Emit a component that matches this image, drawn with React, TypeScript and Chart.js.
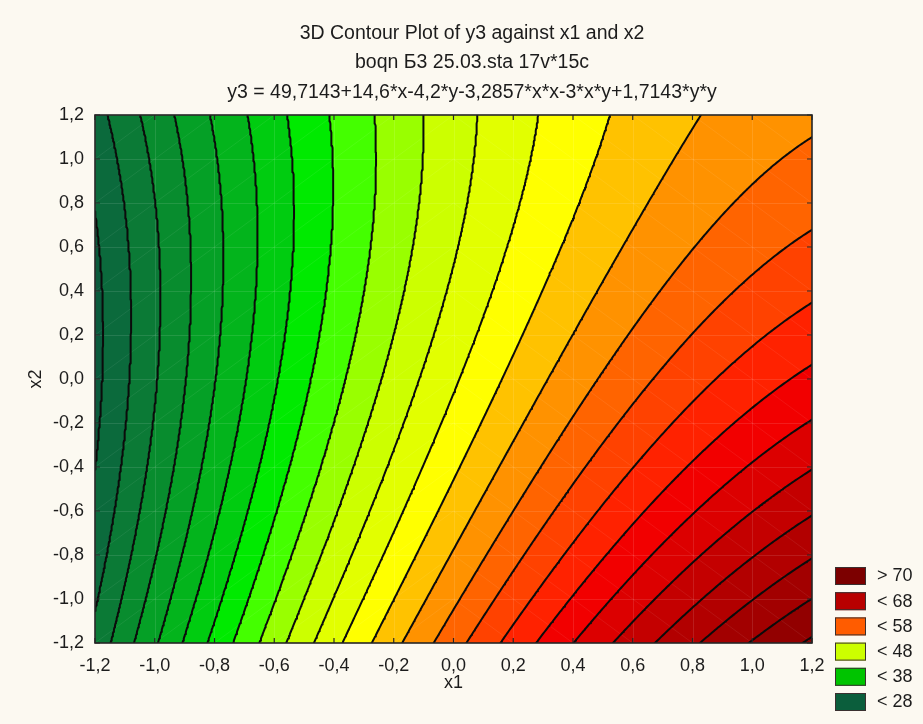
import React, { useEffect, useRef } from 'react';
import { Chart, registerables } from 'chart.js';

Chart.register(...registerables);

// Fitted response surface: y3 = b0 + b1*x + b2*y + b11*x*x + b12*x*y + b22*y*y
const coefficients = [49.7143, 14.6, -4.2, -3.2857, -3, 1.7143];

// Iso-lines of y3, every 2 units
const contourLevels = [28, 30, 32, 34, 36, 38, 40, 42, 44, 46, 48, 50, 52, 54, 56, 58, 60, 62, 64, 66, 68, 70, 72, 74];

// Fill colour of each band: index 0 is below the first level, index k lies between level k-1 and level k
const bandColors = [
  '#0a5a3c', '#0b6a3c', '#0b7a36', '#088c2e', '#05a026', '#03b41c', '#00cc10', '#00ea00',
  '#44ff00', '#99ff00', '#ccff00', '#e2ff00', '#ffff00', '#ffc200', '#ff9200', '#ff6400',
  '#ff4200', '#ff2200', '#f20000', '#dc0000', '#c40000', '#b20000', '#a20000', '#920000', '#840000',
];

const legendLabels = ['> 70', '< 68', '< 58', '< 48', '< 38', '< 28'];
const legendColors = ['#7c0000', '#b80000', '#ff5c00', '#ccff00', '#00c400', '#0b5e3c'];

const axisTicks = [-1.2, -1.0, -0.8, -0.6, -0.4, -0.2, 0.0, 0.2, 0.4, 0.6, 0.8, 1.0, 1.2];
const axisMin = -1.2;
const axisMax = 1.2;

const titleLines = [
  '3D Contour Plot of y3 against x1 and x2',
  'boqn Б3 25.03.sta 17v*15c',
  'y3 = 49,7143+14,6*x-4,2*y-3,2857*x*x-3*x*y+1,7143*y*y',
];
const xTitle = 'x1';
const yTitle = 'x2';

const FONT = '"Liberation Sans", Arial, Helvetica, sans-serif';
const TEXT = '#1c1c1c';
const PAGE_BG = '#fcf9f1';

function surface(x: number, y: number): number {
  const [b0, b1, b2, b11, b12, b22] = coefficients;
  return b0 + b1 * x + b2 * y + b11 * x * x + b12 * x * y + b22 * y * y;
}

function bandIndex(v: number): number {
  let k = 0;
  while (k < contourLevels.length && v >= contourLevels[k]) k++;
  return k;
}

type Pt = { x: number; y: number };

// Marching squares on a regular grid, segments chained into polylines
function traceLevel(level: number, n: number): Pt[][] {
  const step = (axisMax - axisMin) / n;
  const gx = (i: number) => axisMin + i * step;
  const vals: number[] = new Array((n + 1) * (n + 1));
  for (let i = 0; i <= n; i++) for (let j = 0; j <= n; j++) vals[i * (n + 1) + j] = surface(gx(i), gx(j));
  const val = (i: number, j: number) => vals[i * (n + 1) + j];

  const pts = new Map<number, Pt>();
  const adj = new Map<number, number[]>();
  const hKey = (i: number, j: number) => (i * (n + 1) + j) * 2;
  const vKey = (i: number, j: number) => (i * (n + 1) + j) * 2 + 1;

  const edge = (key: number, x0: number, y0: number, v0: number, x1: number, y1: number, v1: number) => {
    if (!pts.has(key)) {
      const t = (level - v0) / (v1 - v0);
      pts.set(key, { x: x0 + t * (x1 - x0), y: y0 + t * (y1 - y0) });
    }
    return key;
  };
  const link = (a: number, b: number) => {
    if (!adj.has(a)) adj.set(a, []);
    if (!adj.has(b)) adj.set(b, []);
    adj.get(a)!.push(b);
    adj.get(b)!.push(a);
  };

  for (let i = 0; i < n; i++) {
    for (let j = 0; j < n; j++) {
      const v00 = val(i, j), v10 = val(i + 1, j), v11 = val(i + 1, j + 1), v01 = val(i, j + 1);
      const x0 = gx(i), x1 = gx(i + 1), y0 = gx(j), y1 = gx(j + 1);
      const a00 = v00 >= level, a10 = v10 >= level, a11 = v11 >= level, a01 = v01 >= level;
      const c: number[] = [];
      if (a00 !== a10) c.push(edge(hKey(i, j), x0, y0, v00, x1, y0, v10));
      if (a10 !== a11) c.push(edge(vKey(i + 1, j), x1, y0, v10, x1, y1, v11));
      if (a01 !== a11) c.push(edge(hKey(i, j + 1), x0, y1, v01, x1, y1, v11));
      if (a00 !== a01) c.push(edge(vKey(i, j), x0, y0, v00, x0, y1, v01));
      if (c.length === 2) {
        link(c[0], c[1]);
      } else if (c.length === 4) {
        const centre = (v00 + v10 + v11 + v01) / 4 >= level;
        if (centre === a00) { link(c[0], c[1]); link(c[2], c[3]); }
        else { link(c[0], c[3]); link(c[1], c[2]); }
      }
    }
  }

  const visited = new Set<number>();
  const chains: Pt[][] = [];
  const walk = (start: number) => {
    const keys = [start];
    visited.add(start);
    let cur = start;
    for (;;) {
      const next = (adj.get(cur) || []).find((k) => !visited.has(k));
      if (next === undefined) break;
      visited.add(next);
      keys.push(next);
      cur = next;
    }
    return keys.map((k) => pts.get(k)!);
  };
  adj.forEach((list, k) => {
    if (list.length === 1 && !visited.has(k)) chains.push(walk(k));
  });
  adj.forEach((_list, k) => {
    if (!visited.has(k)) {
      const loop = walk(k);
      loop.push(loop[0]);
      chains.push(loop);
    }
  });
  return chains;
}

function contourDatasets() {
  return contourLevels.map((level) => {
    const data: Pt[] = [];
    traceLevel(level, 240).forEach((chain) => {
      if (data.length) data.push({ x: NaN, y: NaN });
      chain.forEach((p) => data.push(p));
    });
    return {
      label: String(level),
      data,
      showLine: true,
      pointRadius: 0,
      pointHoverRadius: 0,
      borderColor: '#0b0b0b',
      borderWidth: 2,
      borderCapStyle: 'round' as const,
      borderJoinStyle: 'round' as const,
      tension: 0,
      spanGaps: false,
    };
  });
}

const fmt = (v: number) => (Math.abs(v) < 1e-9 ? 0 : v).toFixed(1).replace('.', ',');

// Filled bands plus the faint mesh lines, under the iso-lines
const bandFillPlugin = {
  id: 'bandFill',
  beforeDatasetsDraw(chart: any) {
    const { ctx, chartArea } = chart;
    const xs = chart.scales.x;
    const ys = chart.scales.y;
    const left = Math.round(chartArea.left);
    const top = Math.round(chartArea.top);
    const w = Math.round(chartArea.right) - left;
    const h = Math.round(chartArea.bottom) - top;
    const off = document.createElement('canvas');
    off.width = w;
    off.height = h;
    const octx = off.getContext('2d')!;
    const img = octx.createImageData(w, h);
    const rgb = bandColors.map((c) => [parseInt(c.slice(1, 3), 16), parseInt(c.slice(3, 5), 16), parseInt(c.slice(5, 7), 16)]);
    const xv: number[] = [];
    for (let c = 0; c < w; c++) xv.push(xs.getValueForPixel(left + c + 0.5));
    for (let r = 0; r < h; r++) {
      const y = ys.getValueForPixel(top + r + 0.5);
      for (let c = 0; c < w; c++) {
        const col = rgb[bandIndex(surface(xv[c], y))];
        const p = (r * w + c) * 4;
        img.data[p] = col[0];
        img.data[p + 1] = col[1];
        img.data[p + 2] = col[2];
        img.data[p + 3] = 255;
      }
    }
    octx.putImageData(img, 0, 0);
    ctx.save();
    ctx.drawImage(off, left, top);

    // faint grid and cell diagonals
    ctx.beginPath();
    ctx.rect(chartArea.left, chartArea.top, chartArea.right - chartArea.left, chartArea.bottom - chartArea.top);
    ctx.clip();
    ctx.lineWidth = 1;
    ctx.strokeStyle = 'rgba(255,255,255,0.11)';
    axisTicks.forEach((t) => {
      const px = Math.round(xs.getPixelForValue(t)) + 0.5;
      const py = Math.round(ys.getPixelForValue(t)) + 0.5;
      ctx.beginPath();
      ctx.moveTo(px, chartArea.top);
      ctx.lineTo(px, chartArea.bottom);
      ctx.moveTo(chartArea.left, py);
      ctx.lineTo(chartArea.right, py);
      ctx.stroke();
    });
    ctx.strokeStyle = 'rgba(255,255,255,0.07)';
    for (let i = 0; i < axisTicks.length - 1; i++) {
      for (let j = 0; j < axisTicks.length - 1; j++) {
        const xa = xs.getPixelForValue(axisTicks[i]);
        const xb = xs.getPixelForValue(axisTicks[i + 1]);
        const ya = ys.getPixelForValue(axisTicks[j]);
        const yb = ys.getPixelForValue(axisTicks[j + 1]);
        ctx.beginPath();
        if (axisTicks[i] < 0) { ctx.moveTo(xa, ya); ctx.lineTo(xb, yb); }
        else { ctx.moveTo(xa, yb); ctx.lineTo(xb, ya); }
        ctx.stroke();
      }
    }
    ctx.restore();
  },
  afterDatasetsDraw(chart: any) {
    const { ctx, chartArea } = chart;
    const xs = chart.scales.x;
    const ys = chart.scales.y;
    ctx.save();
    ctx.strokeStyle = '#262626';
    ctx.lineWidth = 1.6;
    ctx.strokeRect(chartArea.left, chartArea.top, chartArea.right - chartArea.left, chartArea.bottom - chartArea.top);
    ctx.lineWidth = 1.2;
    const tl = 5;
    axisTicks.forEach((t) => {
      const px = xs.getPixelForValue(t);
      const py = ys.getPixelForValue(t);
      ctx.beginPath();
      ctx.moveTo(px, chartArea.bottom);
      ctx.lineTo(px, chartArea.bottom - tl);
      ctx.moveTo(px, chartArea.top);
      ctx.lineTo(px, chartArea.top + tl);
      ctx.moveTo(chartArea.left, py);
      ctx.lineTo(chartArea.left + tl, py);
      ctx.moveTo(chartArea.right, py);
      ctx.lineTo(chartArea.right - tl, py);
      ctx.stroke();
    });
    ctx.restore();
  },
};

// Three-line heading and the level key in the lower right
const annotationPlugin = {
  id: 'headingAndKey',
  afterDraw(chart: any) {
    const { ctx, chartArea } = chart;
    ctx.save();
    ctx.fillStyle = TEXT;
    ctx.font = `19.5px ${FONT}`;
    ctx.textAlign = 'center';
    ctx.textBaseline = 'middle';
    titleLines.forEach((line, i) => ctx.fillText(line, 472, 33.5 + i * 29.5));

    ctx.font = `18px ${FONT}`;
    const boxLeft = chartArea.right + 23;
    const firstTop = chartArea.bottom - 76;
    legendLabels.forEach((label, i) => {
      const top = firstTop + i * 25.2;
      ctx.fillStyle = legendColors[i];
      ctx.fillRect(boxLeft, top, 31, 18);
      ctx.strokeStyle = '#3a3030';
      ctx.lineWidth = 1;
      ctx.strokeRect(boxLeft + 0.5, top + 0.5, 30, 17);
      ctx.fillStyle = TEXT;
      ctx.textAlign = 'left';
      ctx.fillText(label, boxLeft + 42, top + 9.5);
    });
    ctx.restore();
  },
};

export default function App() {
  const canvasRef = useRef<HTMLCanvasElement | null>(null);

  useEffect(() => {
    if (!canvasRef.current) return;
    const tickFont = { family: FONT, size: 18 };
    const chart = new Chart(canvasRef.current, {
      type: 'scatter',
      data: { datasets: contourDatasets() as any },
      options: {
        animation: false,
        responsive: false,
        maintainAspectRatio: false,
        events: [],
        layout: { padding: { left: 0, top: 115, right: 111, bottom: 0 } },
        plugins: {
          legend: { display: false },
          title: { display: false },
          tooltip: { enabled: false },
        },
        scales: {
          x: {
            type: 'linear',
            min: axisMin,
            max: axisMax,
            afterBuildTicks: (s: any) => { s.ticks = axisTicks.map((v) => ({ value: v })); },
            afterFit: (s: any) => { s.height = 81; },
            grid: { display: false, drawTicks: false },
            border: { display: false },
            ticks: { color: TEXT, font: tickFont, padding: 12, maxRotation: 0, autoSkip: false, callback: (v: any) => fmt(Number(v)) },
            title: { display: true, text: xTitle, color: TEXT, font: tickFont, padding: { top: 0, bottom: 30 } },
          },
          y: {
            type: 'linear',
            min: axisMin,
            max: axisMax,
            afterBuildTicks: (s: any) => { s.ticks = axisTicks.map((v) => ({ value: v })); },
            afterFit: (s: any) => { s.width = 95; },
            grid: { display: false, drawTicks: false },
            border: { display: false },
            ticks: { color: TEXT, font: tickFont, padding: 11, autoSkip: false, callback: (v: any) => fmt(Number(v)) },
            title: { display: true, text: yTitle, color: TEXT, font: tickFont, padding: { top: 25, bottom: 0 } },
          },
        },
      },
      plugins: [bandFillPlugin, annotationPlugin],
    } as any);
    return () => chart.destroy();
  }, []);

  return (
    <div style={{ position: 'absolute', left: 0, top: 0, width: 923, height: 724, background: PAGE_BG }}>
      <canvas ref={canvasRef} width={923} height={724} style={{ display: 'block' }} />
    </div>
  );
}
